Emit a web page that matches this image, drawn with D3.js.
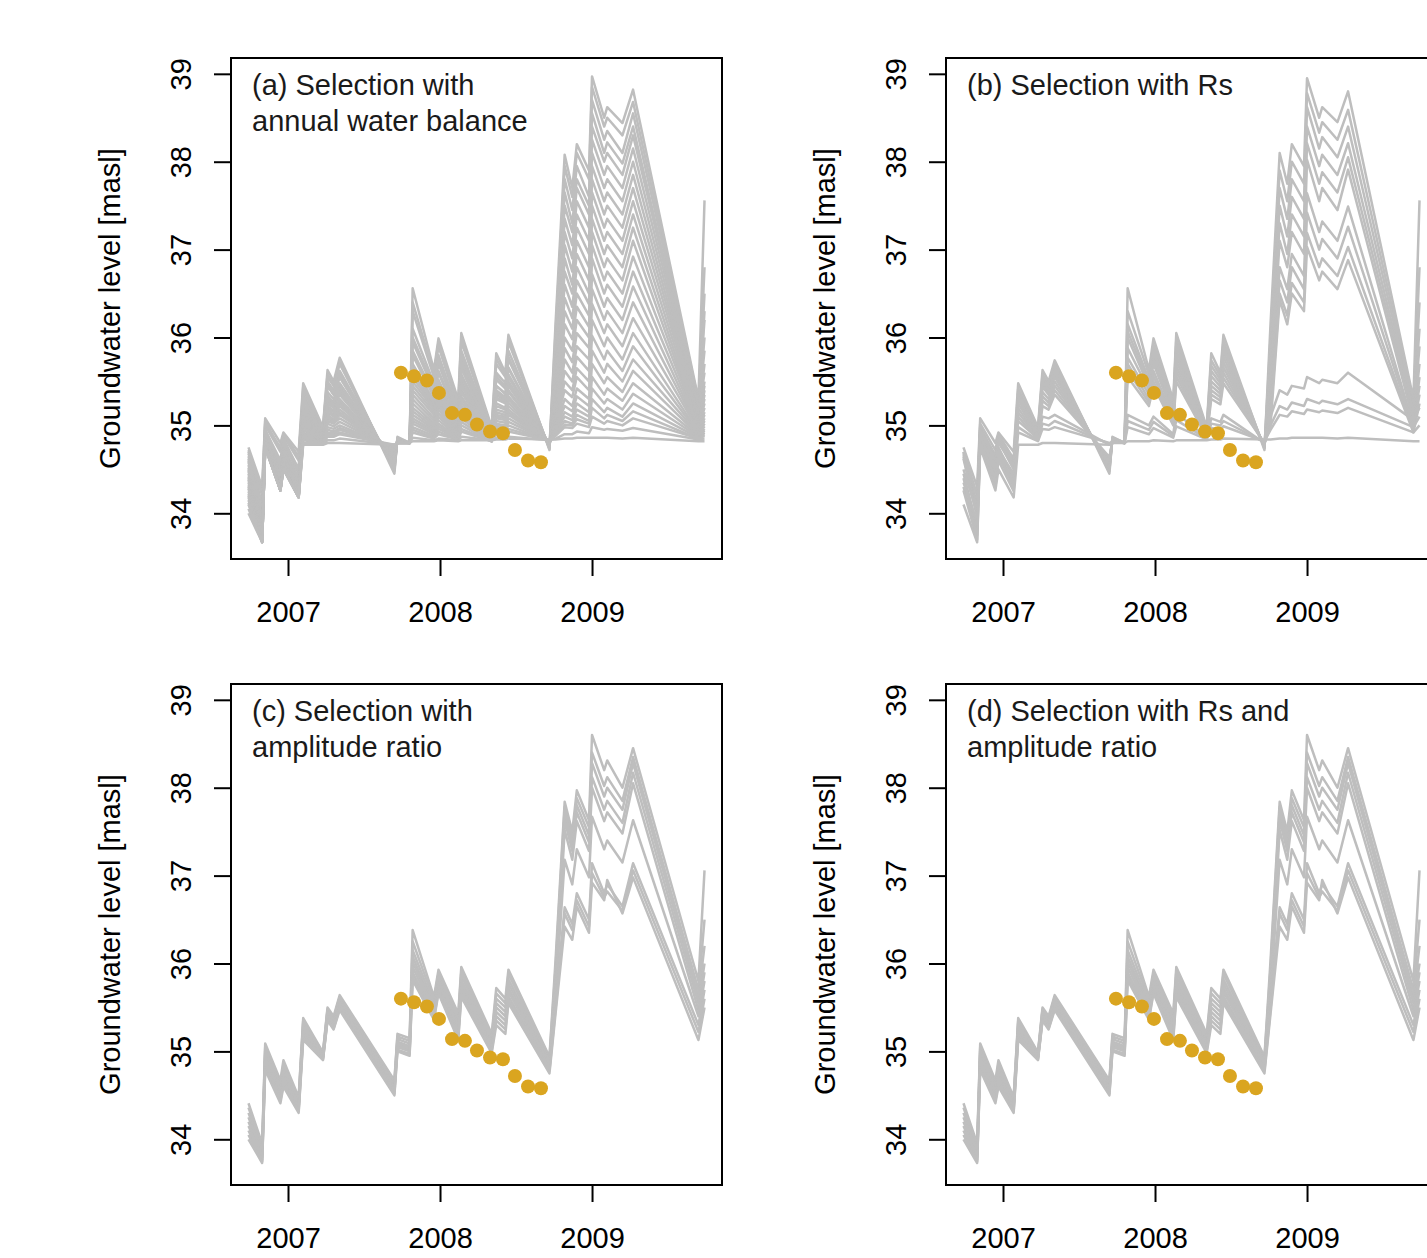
<!DOCTYPE html>
<html>
<head>
<meta charset="utf-8">
<script src="https://cdn.jsdelivr.net/npm/d3@7"></script>
<style>
body { margin: 0; background: #fff; }
text { font-family: "Liberation Sans", Arial, sans-serif; }
</style>
</head>
<body>
<script>
// dates of the simulated series (decimal years)
var dates = [2006.74, 2006.83, 2006.85, 2006.95, 2006.97, 2007.07, 2007.10, 2007.23, 2007.26, 2007.30,
    2007.34, 2007.70, 2007.72, 2007.80, 2007.82, 2007.96, 2007.99, 2008.12, 2008.14, 2008.34,
    2008.37, 2008.43, 2008.45, 2008.72, 2008.76, 2008.82, 2008.87, 2008.90, 2008.98, 2009.00,
    2009.08, 2009.10, 2009.20, 2009.27, 2009.70, 2009.74];

// (a) annual water balance selection
var seriesA = [
    [34.75,34.30,35.08,34.80,34.92,34.70,35.48,34.98,35.63,35.50,35.77,34.45,34.87,34.80,36.56,35.63,35.99,35.29,36.05,34.98,35.82,35.60,36.03,34.72,36.16,38.08,37.70,38.20,37.90,38.97,38.50,38.62,38.44,38.82,35.30,37.56],
    [34.72,34.25,35.02,34.75,34.90,34.65,35.30,34.92,35.45,35.35,35.55,34.55,34.85,34.80,35.85,35.35,35.62,35.08,35.70,34.90,35.45,35.36,35.66,34.76,36.05,37.95,37.60,38.10,37.80,38.85,38.40,38.50,38.30,38.68,35.28,36.20],
    [34.70,34.10,35.00,34.70,34.88,34.60,35.40,34.95,35.55,35.45,35.70,34.50,34.85,34.80,36.30,35.55,35.90,35.20,35.95,34.95,35.70,35.55,35.95,34.74,35.90,37.80,37.45,37.95,37.60,38.70,38.25,38.35,38.10,38.55,35.25,36.80],
    [34.68,34.20,35.05,34.72,34.90,34.62,35.44,34.96,35.58,35.46,35.72,34.48,34.86,34.80,36.40,35.58,35.95,35.25,36.00,34.96,35.76,35.57,35.98,34.73,35.80,37.65,37.30,37.80,37.50,38.55,38.10,38.22,37.98,38.40,35.22,36.50],
    [34.65,34.00,34.95,34.60,34.85,34.50,35.35,34.92,35.50,35.40,35.62,34.52,34.85,34.80,36.10,35.48,35.80,35.15,35.85,34.92,35.60,35.48,35.85,34.75,35.70,37.50,37.20,37.70,37.40,38.40,38.00,38.10,37.85,38.30,35.20,36.30],
    [34.58,33.95,34.92,34.52,34.80,34.48,35.22,34.87,35.34,35.26,35.44,34.60,34.84,34.80,35.70,35.28,35.52,35.02,35.58,34.87,35.40,35.32,35.58,34.77,35.60,37.35,37.05,37.55,37.25,38.25,37.85,37.95,37.70,38.15,35.18,35.85],
    [34.60,33.95,34.90,34.50,34.80,34.45,35.30,34.90,35.45,35.35,35.55,34.55,34.84,34.80,35.95,35.40,35.70,35.10,35.75,34.90,35.52,35.42,35.75,34.76,35.50,37.20,36.90,37.40,37.10,38.10,37.70,37.80,37.55,38.00,35.15,36.00],
    [34.62,34.00,34.95,34.55,34.82,34.50,35.32,34.90,35.46,35.36,35.58,34.54,34.85,34.80,36.00,35.44,35.76,35.12,35.80,34.91,35.56,35.44,35.78,34.76,35.45,37.05,36.75,37.25,36.95,37.95,37.55,37.65,37.40,37.85,35.12,35.60],
    [34.55,33.90,34.88,34.45,34.75,34.40,35.25,34.88,35.38,35.30,35.48,34.58,34.84,34.80,35.80,35.32,35.60,35.05,35.65,34.88,35.45,35.36,35.65,34.77,35.35,36.90,36.60,37.10,36.80,37.80,37.40,37.50,37.25,37.70,35.10,35.70],
    [34.52,33.88,34.86,34.42,34.74,34.38,35.20,34.86,35.30,35.24,35.40,34.60,34.83,34.80,35.60,35.22,35.45,35.00,35.50,34.86,35.35,35.28,35.50,34.78,35.30,36.75,36.50,36.95,36.65,37.65,37.25,37.35,37.10,37.55,35.08,35.45],
    [34.50,33.85,34.85,34.40,34.72,34.35,35.20,34.86,35.32,35.25,35.42,34.60,34.83,34.80,35.65,35.25,35.50,35.00,35.55,34.86,35.38,35.30,35.55,34.78,35.25,36.60,36.35,36.80,36.50,37.50,37.10,37.20,36.95,37.40,35.05,35.50],
    [34.48,33.82,34.84,34.38,34.70,34.34,35.18,34.86,35.28,35.22,35.38,34.61,34.83,34.80,35.55,35.20,35.42,34.99,35.48,34.86,35.32,35.26,35.48,34.79,35.20,36.45,36.22,36.65,36.38,37.35,36.95,37.05,36.80,37.25,35.02,35.40],
    [34.45,33.80,34.82,34.35,34.68,34.30,35.15,34.85,35.25,35.20,35.35,34.62,34.83,34.80,35.50,35.18,35.40,34.98,35.45,34.85,35.30,35.25,35.45,34.79,35.15,36.30,36.10,36.50,36.25,37.20,36.80,36.90,36.65,37.10,35.00,35.35],
    [34.42,33.78,34.81,34.32,34.66,34.30,35.12,34.85,35.22,35.17,35.30,34.63,34.82,34.80,35.45,35.15,35.35,34.96,35.40,34.85,35.25,35.20,35.40,34.79,35.12,36.15,35.98,36.35,36.12,37.05,36.65,36.75,36.50,36.92,35.00,35.30],
    [34.40,33.78,34.80,34.30,34.65,34.28,35.10,34.84,35.20,35.15,35.28,34.65,34.82,34.80,35.40,35.12,35.32,34.95,35.38,34.84,35.22,35.18,35.38,34.80,35.10,36.00,35.85,36.20,36.00,36.90,36.50,36.60,36.35,36.75,34.98,35.25],
    [34.38,33.76,34.80,34.29,34.63,34.27,35.08,34.84,35.18,35.12,35.25,34.66,34.82,34.80,35.35,35.08,35.28,34.93,35.33,34.84,35.18,35.15,35.33,34.80,35.08,35.88,35.72,36.05,35.88,36.72,36.35,36.45,36.20,36.58,34.96,35.20],
    [34.35,33.75,34.79,34.28,34.62,34.25,35.05,34.83,35.15,35.10,35.22,34.68,34.82,34.80,35.30,35.05,35.25,34.92,35.30,34.83,35.15,35.12,35.30,34.80,35.05,35.75,35.60,35.90,35.75,36.55,36.20,36.30,36.05,36.40,34.95,35.15],
    [34.32,33.73,34.78,34.27,34.60,34.24,35.02,34.83,35.12,35.07,35.18,34.69,34.81,34.80,35.25,35.02,35.22,34.91,35.26,34.83,35.12,35.10,35.26,34.80,35.04,35.62,35.50,35.78,35.62,36.38,36.05,36.15,35.90,36.22,34.94,35.12],
    [34.30,33.72,34.78,34.27,34.58,34.22,35.00,34.82,35.10,35.05,35.15,34.70,34.81,34.80,35.20,35.00,35.18,34.90,35.22,34.83,35.10,35.08,35.22,34.80,35.02,35.50,35.40,35.65,35.50,36.20,35.90,36.00,35.75,36.05,34.92,35.08],
    [34.28,33.71,34.77,34.26,34.57,34.21,34.98,34.82,35.08,35.04,35.12,34.71,34.81,34.80,35.16,34.98,35.14,34.89,35.18,34.83,35.08,35.06,35.18,34.80,35.00,35.40,35.32,35.55,35.40,36.02,35.75,35.85,35.62,35.90,34.91,35.05],
    [34.25,33.70,34.77,34.26,34.55,34.20,34.95,34.81,35.05,35.02,35.08,34.72,34.81,34.80,35.12,34.96,35.10,34.88,35.15,34.82,35.05,35.03,35.15,34.81,34.98,35.30,35.22,35.42,35.30,35.85,35.60,35.70,35.50,35.75,34.90,35.02],
    [34.22,33.69,34.76,34.26,34.54,34.19,34.92,34.81,35.02,34.99,35.04,34.73,34.80,34.80,35.08,34.94,35.06,34.87,35.12,34.82,35.02,35.00,35.12,34.81,34.96,35.22,35.16,35.33,35.22,35.70,35.48,35.55,35.38,35.62,34.89,34.99],
    [34.20,33.68,34.76,34.26,34.53,34.19,34.90,34.80,34.98,34.96,35.00,34.74,34.80,34.80,35.05,34.92,35.02,34.86,35.08,34.82,35.00,34.98,35.08,34.81,34.95,35.15,35.10,35.25,35.15,35.55,35.35,35.42,35.28,35.48,34.88,34.96],
    [34.18,33.68,34.76,34.26,34.52,34.18,34.88,34.80,34.95,34.93,34.97,34.75,34.80,34.80,35.02,34.90,34.99,34.85,35.04,34.82,34.97,34.96,35.04,34.82,34.93,35.10,35.06,35.18,35.10,35.42,35.25,35.30,35.18,35.36,34.87,34.94],
    [34.15,33.67,34.76,34.26,34.52,34.18,34.86,34.80,34.92,34.91,34.95,34.76,34.80,34.80,34.98,34.88,34.96,34.85,35.00,34.82,34.95,34.94,35.00,34.82,34.92,35.05,35.02,35.12,35.05,35.30,35.15,35.20,35.10,35.25,34.86,34.92],
    [34.12,33.67,34.75,34.26,34.51,34.18,34.84,34.80,34.89,34.89,34.92,34.77,34.80,34.80,34.95,34.86,34.93,34.84,34.96,34.82,34.92,34.92,34.96,34.83,34.90,35.01,35.00,35.07,35.02,35.20,35.08,35.12,35.05,35.16,34.85,34.90],
    [34.10,33.67,34.75,34.26,34.51,34.18,34.83,34.80,34.87,34.87,34.90,34.78,34.80,34.80,34.92,34.85,34.90,34.84,34.93,34.82,34.90,34.90,34.93,34.83,34.88,34.98,34.97,35.02,34.98,35.10,35.02,35.05,35.00,35.08,34.85,34.88],
    [34.05,33.67,34.75,34.26,34.50,34.18,34.80,34.79,34.83,34.83,34.85,34.78,34.80,34.80,34.86,34.83,34.85,34.83,34.87,34.83,34.86,34.86,34.87,34.83,34.85,34.90,34.90,34.93,34.91,34.98,34.95,34.96,34.94,34.97,34.84,34.85],
    [34.00,33.67,34.75,34.26,34.50,34.18,34.78,34.78,34.80,34.80,34.80,34.78,34.80,34.80,34.82,34.82,34.83,34.82,34.83,34.83,34.84,34.84,34.85,34.84,34.84,34.85,34.85,34.86,34.86,34.86,34.86,34.86,34.85,34.86,34.82,34.82]
];

// (b) Rs selection
var seriesB = [
    [34.75,34.30,35.08,34.80,34.92,34.70,35.48,34.98,35.63,35.50,35.74,34.45,34.87,34.80,36.56,35.63,35.99,35.29,36.05,34.98,35.82,35.60,36.03,34.72,36.16,38.10,37.75,38.20,37.95,38.95,38.50,38.62,38.45,38.80,35.30,37.56],
    [34.70,34.20,35.02,34.72,34.90,34.62,35.42,34.95,35.58,35.46,35.70,34.48,34.86,34.80,36.30,35.58,35.92,35.24,35.98,34.96,35.74,35.56,35.96,34.74,36.00,37.90,37.55,38.00,37.75,38.78,38.33,38.45,38.25,38.59,35.25,36.80],
    [34.68,34.10,34.98,34.66,34.88,34.58,35.38,34.93,35.54,35.42,35.66,34.50,34.86,34.80,36.15,35.52,35.86,35.20,35.92,34.94,35.68,35.52,35.90,34.75,35.85,37.70,37.35,37.80,37.55,38.62,38.15,38.28,38.05,38.40,35.20,36.40],
    [34.66,34.05,34.95,34.62,34.86,34.55,35.35,34.92,35.50,35.40,35.62,34.52,34.85,34.80,36.07,35.48,35.80,35.17,35.86,34.93,35.62,35.48,35.84,34.75,35.70,37.50,37.15,37.60,37.35,38.40,37.95,38.08,37.85,38.21,35.15,36.10],
    [34.64,34.00,34.92,34.58,34.84,34.52,35.32,34.91,35.47,35.38,35.58,34.54,34.85,34.80,36.00,35.44,35.75,35.14,35.80,34.92,35.56,35.44,35.78,34.76,35.60,37.30,36.95,37.40,37.15,38.21,37.75,37.88,37.65,38.05,35.10,35.90],
    [34.62,33.95,34.90,34.55,34.82,34.50,35.30,34.90,35.44,35.35,35.55,34.56,34.84,34.80,35.88,35.40,35.70,35.12,35.74,34.91,35.50,35.40,35.72,34.77,35.50,37.10,36.80,37.20,36.95,38.02,37.55,37.70,37.45,37.91,35.05,35.70],
    [34.45,33.85,34.85,34.45,34.75,34.40,35.25,34.88,35.38,35.30,35.50,34.58,34.84,34.80,35.77,35.35,35.62,35.08,35.68,34.90,35.45,35.36,35.66,34.78,35.30,36.80,36.55,36.95,36.70,37.64,37.20,37.32,37.10,37.49,35.00,35.55],
    [34.40,33.80,34.82,34.40,34.70,34.35,35.20,34.86,35.33,35.26,35.45,34.60,34.83,34.80,35.70,35.30,35.56,35.05,35.62,34.89,35.40,35.32,35.60,34.78,35.20,36.65,36.40,36.80,36.55,37.42,37.00,37.12,36.90,37.26,34.98,35.45],
    [34.30,33.75,34.80,34.35,34.65,34.30,35.15,34.85,35.28,35.22,35.40,34.62,34.83,34.80,35.62,35.26,35.50,35.02,35.56,34.88,35.35,35.28,35.54,34.79,35.10,36.50,36.25,36.62,36.40,37.19,36.80,36.90,36.70,37.03,34.95,35.35],
    [34.26,33.70,34.78,34.30,34.60,34.25,35.10,34.84,35.22,35.18,35.35,34.64,34.82,34.80,35.55,35.22,35.45,35.00,35.50,34.87,35.30,35.24,35.48,34.80,35.00,36.43,36.15,36.50,36.30,37.03,36.65,36.75,36.55,36.88,34.92,35.25],
    [34.70,34.20,34.95,34.60,34.80,34.55,35.05,34.85,35.10,35.08,35.12,34.78,34.82,34.80,35.12,35.00,35.10,34.90,35.14,34.86,35.08,35.04,35.12,34.80,35.10,35.40,35.35,35.45,35.42,35.55,35.48,35.52,35.48,35.60,35.06,35.20],
    [34.50,34.00,34.88,34.50,34.72,34.45,34.98,34.83,35.02,35.00,35.05,34.79,34.81,34.80,35.05,34.95,35.04,34.88,35.06,34.85,35.02,35.00,35.05,34.81,35.00,35.22,35.18,35.26,35.22,35.30,35.25,35.28,35.24,35.30,34.98,35.10],
    [34.35,33.90,34.80,34.40,34.65,34.35,34.92,34.82,34.96,34.95,34.98,34.80,34.81,34.80,34.98,34.90,34.97,34.86,34.99,34.84,34.97,34.96,34.99,34.82,34.95,35.12,35.10,35.16,35.13,35.18,35.15,35.17,35.14,35.20,34.92,35.00],
    [34.10,33.67,34.75,34.26,34.50,34.18,34.78,34.78,34.80,34.80,34.80,34.78,34.80,34.80,34.82,34.82,34.83,34.82,34.83,34.83,34.84,34.84,34.85,34.84,34.84,34.85,34.85,34.86,34.86,34.86,34.86,34.86,34.85,34.86,34.82,34.82]
];

// (c) amplitude ratio selection, also (d)
var seriesC = [
    [34.41,33.95,35.09,34.67,34.90,34.48,35.38,34.99,35.50,35.40,35.64,34.67,35.20,35.15,36.38,35.62,35.93,35.43,35.96,35.20,35.72,35.60,35.93,34.94,36.04,37.84,37.50,37.97,37.63,38.60,38.20,38.31,38.00,38.45,35.80,37.06],
    [34.36,33.92,35.05,34.63,34.86,34.46,35.35,34.98,35.48,35.38,35.62,34.65,35.17,35.12,36.25,35.58,35.89,35.39,35.91,35.17,35.66,35.55,35.88,34.92,35.95,37.78,37.42,37.88,37.55,38.40,38.02,38.12,37.85,38.35,35.70,36.50],
    [34.30,33.88,35.01,34.60,34.82,34.43,35.32,34.97,35.46,35.36,35.60,34.63,35.14,35.09,36.15,35.54,35.85,35.35,35.86,35.14,35.60,35.50,35.82,34.90,35.85,37.71,37.35,37.80,37.46,38.28,37.90,38.00,37.75,38.28,35.62,36.20],
    [34.25,33.85,34.97,34.56,34.78,34.40,35.28,34.95,35.44,35.34,35.58,34.61,35.11,35.06,36.08,35.50,35.81,35.31,35.81,35.11,35.55,35.45,35.77,34.88,35.78,37.63,37.28,37.72,37.38,38.12,37.75,37.85,37.60,38.17,35.55,36.00],
    [34.20,33.82,34.93,34.53,34.74,34.38,35.25,34.94,35.42,35.32,35.56,34.59,35.09,35.04,36.02,35.47,35.78,35.28,35.77,35.09,35.50,35.40,35.72,34.86,35.70,37.52,37.18,37.62,37.28,38.00,37.62,37.72,37.48,38.05,35.47,35.90],
    [34.15,33.80,34.89,34.50,34.70,34.36,35.22,34.93,35.40,35.30,35.54,34.57,35.07,35.02,35.96,35.44,35.75,35.24,35.73,35.07,35.45,35.35,35.68,34.84,35.62,37.18,36.90,37.30,36.98,37.67,37.30,37.40,37.15,37.63,35.40,35.80],
    [34.10,33.77,34.85,34.47,34.66,34.34,35.19,34.92,35.38,35.28,35.51,34.55,35.05,35.00,35.90,35.41,35.72,35.20,35.69,35.04,35.40,35.30,35.63,34.81,35.55,36.64,36.45,36.80,36.50,37.14,36.80,36.90,36.65,37.14,35.30,35.70],
    [34.05,33.75,34.82,34.44,34.63,34.32,35.16,34.91,35.36,35.26,35.49,34.52,35.02,34.97,35.85,35.38,35.69,35.16,35.65,35.01,35.35,35.25,35.59,34.78,35.48,36.57,36.38,36.72,36.42,37.03,36.75,36.82,36.60,37.06,35.22,35.60],
    [34.00,33.73,34.79,34.41,34.60,34.30,35.13,34.90,35.35,35.25,35.47,34.50,35.00,34.95,35.81,35.36,35.66,35.13,35.62,34.98,35.30,35.20,35.55,34.75,35.43,36.42,36.27,36.65,36.35,36.92,36.72,36.95,36.57,36.98,35.13,35.50]
];

// observed levels
var obsDates = [2007.743, 2007.829, 2007.914, 2007.993, 2008.079, 2008.164, 2008.243, 2008.329, 2008.414, 2008.493, 2008.579, 2008.664];
var obsLevels = [35.60, 35.56, 35.51, 35.37, 35.14, 35.12, 35.01, 34.93, 34.91, 34.72, 34.60, 34.58];

var xTicks = [2007, 2008, 2009];
var yTicks = [34, 35, 36, 37, 38, 39];
var titles = [
    ["(a) Selection with", "annual water balance"],
    ["(b) Selection with Rs"],
    ["(c) Selection with", "amplitude ratio"],
    ["(d) Selection with Rs and", "amplitude ratio"]
];
var yLabel = "Groundwater level [masl]";

var width = 1427;
var height = 1258;
var boxW = 491, boxH = 501;
var fontSize = 29;

var svg = d3.select("body")
    .append("svg")
    .attr("width", width)
    .attr("height", height);

var xScale = d3.scaleLinear()
    .domain([2006.625, 2009.855])
    .range([0, boxW]);

var yScale = d3.scaleLinear()
    .domain([33.48, 39.18])
    .range([boxH, 0]);

var line = d3.line()
    .x((d, i) => xScale(dates[i]))
    .y(d => yScale(d));

var panels = [
    { left: 231, top: 58, series: seriesA, title: titles[0] },
    { left: 946, top: 58, series: seriesB, title: titles[1] },
    { left: 231, top: 684, series: seriesC, title: titles[2] },
    { left: 946, top: 684, series: seriesC, title: titles[3] }
];

panels.forEach(function(p) {
    var g = svg.append("g")
        .attr("transform", "translate(" + p.left + "," + p.top + ")");

    //模拟曲线
    g.selectAll("path.sim")
        .data(p.series)
        .enter()
        .append("path")
        .attr("class", "sim")
        .attr("d", line)
        .attr("fill", "none")
        .attr("stroke", "#bebebe")
        .attr("stroke-width", 2.5)
        .attr("stroke-linejoin", "round");

    //观测点
    g.selectAll("circle")
        .data(obsLevels)
        .enter()
        .append("circle")
        .attr("cx", (d, i) => xScale(obsDates[i]))
        .attr("cy", d => yScale(d))
        .attr("r", 7)
        .attr("fill", "#daa520");

    g.append("rect")
        .attr("width", boxW)
        .attr("height", boxH)
        .attr("fill", "none")
        .attr("stroke", "#000")
        .attr("stroke-width", 2);

    var xAxis = d3.axisBottom(xScale)
        .tickValues(xTicks)
        .tickFormat(d3.format("d"))
        .tickSize(17)
        .tickPadding(25);

    var yAxis = d3.axisLeft(yScale)
        .tickValues(yTicks)
        .tickFormat(d3.format("d"))
        .tickSize(17);

    var gx = g.append("g")
        .attr("transform", "translate(0," + boxH + ")")
        .call(xAxis);

    var gy = g.append("g").call(yAxis);

    [gx, gy].forEach(function(a) {
        a.select(".domain").remove();
        a.selectAll(".tick line").attr("stroke-width", 2);
        a.selectAll("text")
            .attr("fill", "#000")
            .style("font-size", fontSize + "px")
            .style("font-family", '"Liberation Sans", Arial, sans-serif');
    });

    gy.selectAll("text")
        .attr("x", null)
        .attr("dy", null)
        .attr("text-anchor", "middle")
        .attr("transform", "translate(-40,0) rotate(-90)");

    g.append("text")
        .attr("transform", "translate(-111," + (boxH / 2) + ") rotate(-90)")
        .attr("text-anchor", "middle")
        .style("font-size", fontSize + "px")
        .attr("fill", "#000")
        .text(yLabel);

    g.selectAll("text.title")
        .data(p.title)
        .enter()
        .append("text")
        .attr("class", "title")
        .attr("x", 21)
        .attr("y", (d, i) => 37 + i * 36)
        .style("font-size", fontSize + "px")
        .attr("fill", "#1a1a1a")
        .text(d => d);
});
</script>
</body>
</html>
